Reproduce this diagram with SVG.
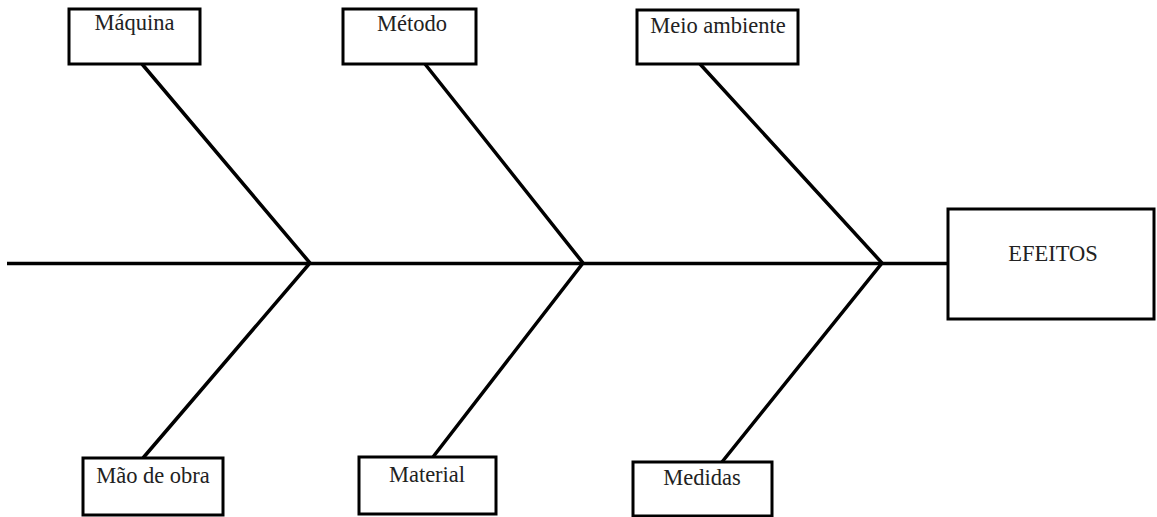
<svg xmlns="http://www.w3.org/2000/svg" width="1157" height="517" viewBox="0 0 1157 517">
<style>
.box{fill:#fff;stroke:#000;stroke-width:3}
.lbl{font-family:"Liberation Serif","Times New Roman",serif;font-size:22.5px;fill:#222;text-anchor:middle}
.bone{stroke:#000;stroke-width:3.5;fill:none;stroke-linecap:butt}
</style>
<rect width="1157" height="517" fill="#fff"/>
<g id="connectors">
<line class="bone" x1="7" y1="263.5" x2="948" y2="263.5"/>
<polyline class="bone" points="142,64 310,263 143,458"/>
<polyline class="bone" points="425,64 583,263 433,457"/>
<polyline class="bone" points="700,64 882,263 722,462"/>
</g>
<g id="maquina"><rect class="box" x="69" y="9" width="131" height="55"/><text class="lbl" x="134.5" y="30">Máquina</text></g>
<g id="metodo"><rect class="box" x="343" y="9" width="133" height="55"/><text class="lbl" x="412" y="31">Método</text></g>
<g id="meio-ambiente"><rect class="box" x="637" y="10" width="161" height="54"/><text class="lbl" x="718" y="33">Meio ambiente</text></g>
<g id="efeitos"><rect class="box" x="948" y="209" width="206" height="110"/><text class="lbl" x="1053" y="261">EFEITOS</text></g>
<g id="mao-de-obra"><rect class="box" x="83" y="458" width="140" height="57"/><text class="lbl" x="153" y="483">Mão de obra</text></g>
<g id="material"><rect class="box" x="359" y="457" width="137" height="57"/><text class="lbl" x="427" y="482">Material</text></g>
<g id="medidas"><rect class="box" x="633" y="462" width="139" height="54"/><text class="lbl" x="702" y="485">Medidas</text></g>
</svg>
